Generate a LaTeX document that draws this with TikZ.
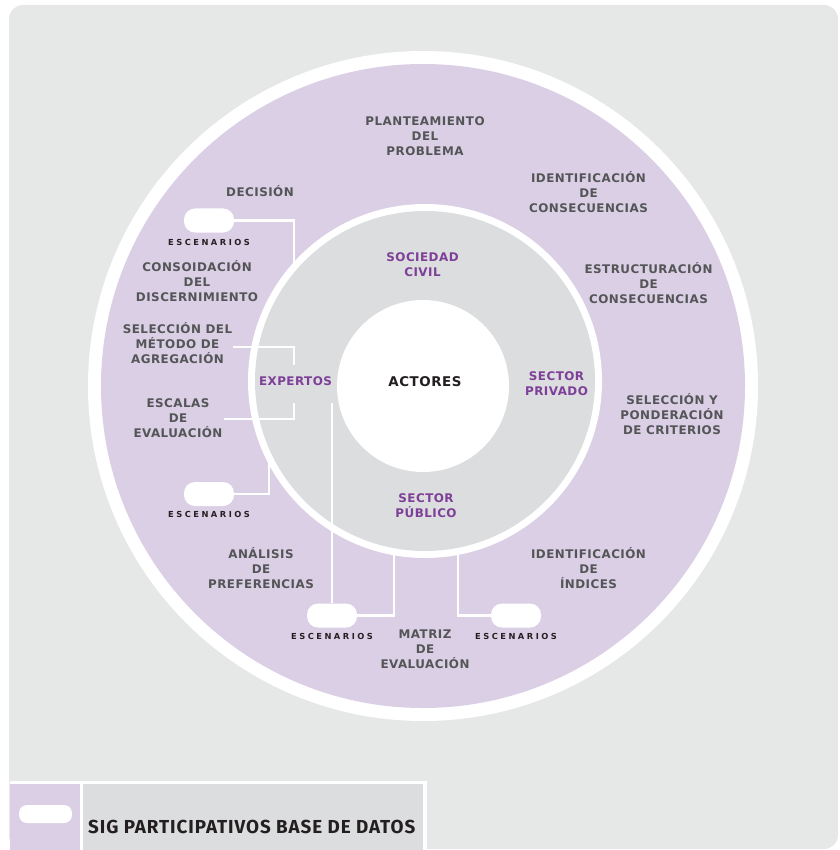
\documentclass[tikz,border=0pt]{standalone}
\usepackage{fontspec}
\newfontfamily\labfont[LetterSpace=4]{DejaVu Sans}
\newfontfamily\escfont[LetterSpace=30]{DejaVu Sans}
\newfontfamily\legfont[LetterSpace=5]{Fira Sans}
\definecolor{bgc}{HTML}{E6E7E7}
\definecolor{purp}{HTML}{DBCFE6}
\definecolor{grayin}{HTML}{DCDDDE}
\definecolor{txtc}{HTML}{545557}
\definecolor{purtxt}{HTML}{7D3F98}
\definecolor{esctxt}{HTML}{231F20}
\tikzset{
  lab/.style={align=center, inner sep=1pt, text=txtc, font=\labfont\bfseries\fontsize{11.9}{15}\selectfont},
  plab/.style={lab, text=purtxt},
  esc/.style={inner sep=0pt, text=esctxt, font=\escfont\bfseries\fontsize{8.3}{10}\selectfont},
  pill/.style={fill=white, minimum width=50pt, minimum height=24pt, rounded corners=11pt, inner sep=0pt},
  conn/.style={draw=white, line width=2.5pt}
}
\begin{document}
\begin{tikzpicture}[x=1pt,y=-1pt]
\useasboundingbox (0,0) rectangle (839,850);
% background
\fill[bgc, rounded corners=14pt] (9,5) rectangle (838,849);
% rings
\fill[white] (423,386) circle (335pt);
\fill[purp] (423,386) circle (322pt);
\fill[white] (425,381) circle (177pt);
\fill[grayin] (425,381) circle (170pt);
\fill[white] (423,386) circle (86pt);
% pills
\node[pill] (p1) at (209,220.5) {};
\node[pill] (p2) at (209,494) {};
\node[pill] (p3) at (332,615.5) {};
\node[pill] (p4) at (516,615.5) {};
% labels
\node[lab] (plant) at (425,136) {PLANTEAMIENTO\\DEL\\PROBLEMA};
\node[lab] (idcons) at (588.5,192) {IDENTIFICACIÓN\\DE\\CONSECUENCIAS};
\node[lab] (estr) at (648.5,283) {ESTRUCTURACIÓN\\DE\\CONSECUENCIAS};
\node[lab] (selpond) at (672,414) {SELECCIÓN Y\\PONDERACIÓN\\DE CRITERIOS};
\node[lab] (idind) at (588.5,568) {IDENTIFICACIÓN\\DE\\ÍNDICES};
\node[lab] (matriz) at (425,649) {MATRIZ\\DE\\EVALUACIÓN};
\node[lab] (analisis) at (261,568) {ANÁLISIS\\DE\\PREFERENCIAS};
\node[lab] (escalas) at (178,418) {ESCALAS\\DE\\EVALUACIÓN};
\node[lab] (selmet) at (177.5,343) {SELECCIÓN DEL\\MÉTODO DE\\AGREGACIÓN};
\node[lab] (consol) at (197,281) {CONSOIDACIÓN\\DEL\\DISCERNIMIENTO};
\node[lab] (decision) at (260,191) {DECISIÓN};
\node[plab] (experts) at (295.5,381) {EXPERTOS};
\node[plab] (sociedad) at (422.5,264.5) {SOCIEDAD\\CIVIL};
\node[plab] (privado) at (556.5,383.5) {SECTOR\\PRIVADO};
\node[plab] (publico) at (426,505.5) {SECTOR\\PÚBLICO};
\node[lab, text=esctxt, font=\labfont\bfseries\fontsize{13.4}{15}\selectfont] (actores) at (425,382) {ACTORES};
\node[esc] (e1) at (209,242) {ESCENARIOS};
\node[esc] (e2) at (209,514) {ESCENARIOS};
\node[esc] (e3) at (332,636) {ESCENARIOS};
\node[esc] (e4) at (516,636) {ESCENARIOS};
% connector ends
\coordinate (c1) at (294,266);
\coordinate (c2) at (294,365);
\coordinate (c3) at (294,403);
\coordinate (c4) at (332,403);
\coordinate (c5) at (269,458);
\coordinate (c6) at (394,552);
\coordinate (c7) at (458,552);
\draw[conn] (p1.east) -| (c1);
\draw[conn] ([yshift=-4pt]selmet.east) -| (c2);
\draw[conn] ([yshift=-1pt]escalas.east) -| (c3);
\draw[conn] (c4) -- (p3.north);
\draw[conn] (p2.east) -| (c5);
\draw[conn] (p3.east) -| (c6);
\draw[conn] (p4.west) -| (c7);
% legend
\fill[white] (10,781) rectangle (427,850);
\fill[purp] (10,784) rectangle (80,850);
\fill[grayin] (83,784) rectangle (423,850);
\node[pill, minimum width=53pt, minimum height=18pt, rounded corners=8pt] (lp) at (45.5,814) {};
\node[anchor=west, inner sep=0pt, text=esctxt, font=\legfont\bfseries\fontsize{18.8}{20}\selectfont] (legt) at (88,826.5) {SIG PARTICIPATIVOS BASE DE DATOS};
\end{tikzpicture}
\end{document}
